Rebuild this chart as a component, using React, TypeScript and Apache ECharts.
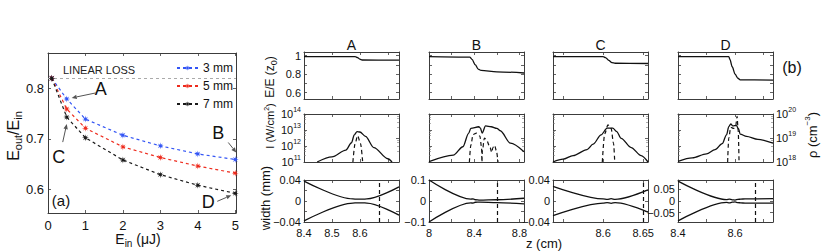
import React, { useEffect, useRef } from 'react';
import * as echarts from 'echarts';

// ---------- panel (a) data ----------
const ein = [0.1, 0.5, 1, 2, 3, 4, 5];
const ratio3mm = [0.82, 0.779, 0.739, 0.707, 0.686, 0.67, 0.659];
const ratio5mm = [0.82, 0.759, 0.721, 0.684, 0.663, 0.646, 0.632];
const ratio7mm = [0.82, 0.743, 0.702, 0.658, 0.629, 0.608, 0.592];
const linearLoss = 0.821;
const legendNames = ['3 mm', '5 mm', '7 mm'];
const einTicks = [0, 1, 2, 3, 4, 5];
const ratioTicks = [0.6, 0.7, 0.8];

// ---------- panel (b) data ----------
const caseNames = ['A', 'B', 'C', 'D'];
const zMin = [8.4, 8, 8.5375, 8.4];
const zMax = [8.74, 8.84, 8.656, 8.733];
const zTickValues = [[8.4, 8.5, 8.6, 8.7], [8, 8.2, 8.4, 8.6, 8.8], [8.55, 8.6, 8.65], [8.4, 8.5, 8.6, 8.7]];
const zTickLabels = [[8.4, 8.5, 8.6], [8, 8.4, 8.8], [8.6, 8.65], [8.4, 8.6]];
const zFocusMarker = [8.669, 8.6, 8.651, 8.674];

// top row: E/E(z0)
const energyTicks = [0.6, 0.7, 0.8, 0.9, 1];
const energyLabels = [0.6, 0.8, 1];
const zA_E = [8.4, 8.583, 8.592, 8.6, 8.608, 8.74];
const eA = [0.99, 0.99, 0.98, 0.962, 0.953, 0.952];
const zB_E = [8, 8.36, 8.38, 8.41, 8.435, 8.46, 8.6, 8.84];
const eB = [0.99, 0.985, 0.96, 0.9, 0.855, 0.84, 0.825, 0.812];
const zC_E = [8.5375, 8.6, 8.603, 8.607, 8.611, 8.615, 8.656];
const eC = [0.99, 0.99, 0.98, 0.95, 0.925, 0.918, 0.915];
const zD_E = [8.4, 8.578, 8.582, 8.59, 8.6, 8.61, 8.618, 8.733];
const eD = [0.99, 0.99, 0.96, 0.88, 0.8, 0.755, 0.738, 0.735];

// middle row: intensity I (W/cm^2) and plasma density rho (cm^-3)
const zA_I = [8.447, 8.5, 8.55, 8.57, 8.58, 8.59, 8.6, 8.62, 8.65, 8.7, 8.715];
const iA = [1e11, 2.1e11, 5.6e11, 1.6e12, 5e12, 8e12, 7.5e12, 4e12, 8e11, 1.6e11, 1e11];
const zA_R = [8.575, 8.583, 8.592, 8.602, 8.61];
const rA = [1e18, 6e18, 1.25e19, 6e18, 1e18];
const zB_I = [8, 8.215, 8.3, 8.35, 8.37, 8.44, 8.455, 8.47, 8.5, 8.55, 8.6, 8.63, 8.72, 8.84];
const iB = [1.05e11, 2.7e11, 9e11, 6.2e12, 1.27e13, 1.6e13, 1.3e13, 6.3e12, 1.8e13, 1.6e13, 1.27e13, 9e12, 1.5e12, 4.4e11];
const zB_R = [8.357, 8.37, 8.39, 8.42, 8.45, 8.465, 8.468, 8.472, 8.49, 8.51, 8.54, 8.555, 8.565, 8.58, 8.595, 8.61];
const rB = [1e18, 5e18, 1.4e19, 1.6e19, 1.2e19, 4e18, 1e18, 3e18, 1e19, 8e18, 4e18, 2.5e18, 4e18, 5e18, 3e18, 1e18];
const zC_I = [8.5375, 8.55, 8.5625, 8.58, 8.5875, 8.5975, 8.605, 8.612, 8.617, 8.6225, 8.635, 8.6475, 8.656];
const iC = [1e11, 1.5e11, 2.5e11, 6e11, 1.3e12, 5e12, 1.3e13, 1.3e13, 8e12, 3e12, 8e11, 2.5e11, 1e11];
const zC_R = [8.599, 8.602, 8.606, 8.61, 8.613, 8.6145];
const rC = [1e18, 1.5e19, 3.5e19, 2.5e19, 6e18, 1e18];
const zD_I = [8.4, 8.45, 8.5, 8.53, 8.555, 8.57, 8.578, 8.585, 8.592, 8.605, 8.612, 8.618, 8.64, 8.68, 8.733];
const iD = [1.1e11, 1.8e11, 3.2e11, 6e11, 1.4e12, 5e12, 1.6e13, 2.4e13, 1.8e13, 1.9e13, 1.2e13, 5.5e12, 4e12, 2.6e12, 1.5e12];
const zD_R = [8.574, 8.578, 8.585, 8.595, 8.602, 8.607, 8.611, 8.614];
const rD = [1e18, 1e19, 2.8e19, 2.5e19, 3e19, 8e19, 2e19, 1e18];

// bottom row: beam width (mm), upper and lower envelopes
const widthMin = [-0.04, -0.1, -0.04, -0.09];
const widthMax = [0.04, 0.1, 0.04, 0.09];
const widthTicks = [[-0.04, -0.02, 0, 0.02, 0.04], [-0.1, -0.05, 0, 0.05, 0.1], [-0.04, -0.02, 0, 0.02, 0.04], [-0.05, 0, 0.05]];
const widthLabels = [[-0.04, 0, 0.04], [-0.1, 0, 0.1], [-0.04, 0, 0.04], [-0.05, 0, 0.05]];
const zA_W = [8.4, 8.575, 8.59, 8.61, 8.625, 8.74];
const wAup = [0.038, 0.004, 0.0035, 0.0035, 0.004, 0.027];
const wAlo = [-0.038, -0.004, -0.0035, -0.0035, -0.004, -0.027];
const zB_W = [8, 8.37, 8.39, 8.41, 8.45, 8.6, 8.84];
const wBup = [0.1, 0.009, 0.01, 0.006, 0.004, 0.006, 0.013];
const wBlo = [-0.1, -0.009, -0.01, -0.006, -0.005, -0.008, -0.014];
const zC_W = [8.5375, 8.6, 8.605, 8.61, 8.615, 8.656];
const wCup = [0.028, 0.004, 0.003, 0.0045, 0.003, 0.021];
const wClo = [-0.028, -0.004, -0.003, -0.0045, -0.003, -0.021];
const zD_W = [8.4, 8.57, 8.58, 8.59, 8.6, 8.61, 8.62, 8.635, 8.733];
const wDup = [0.085, 0.006, 0.008, 0.005, 0.004, 0.007, 0.008, 0.009, 0.01];
const wDlo = [-0.085, -0.006, -0.008, -0.005, -0.004, -0.007, -0.008, -0.009, -0.009];

const energyZ = [zA_E, zB_E, zC_E, zD_E];
const energyV = [eA, eB, eC, eD];
const intZ = [zA_I, zB_I, zC_I, zD_I];
const intV = [iA, iB, iC, iD];
const rhoZ = [zA_R, zB_R, zC_R, zD_R];
const rhoV = [rA, rB, rC, rD];
const widthZ = [zA_W, zB_W, zC_W, zD_W];
const widthUp = [wAup, wBup, wCup, wDup];
const widthLo = [wAlo, wBlo, wClo, wDlo];

// ---------- styling ----------
const FONT = '"Liberation Sans", Arial, sans-serif';
const INK = '#111';
const FRAME = '#3c3c3c';
const seriesColors = ['#3355f5', '#ee2c1e', '#1a1a1a'];

const zip = (xs: number[], ys: number[]) => xs.map((x, i) => [x, ys[i]]);
const fmtNum = (v: number) => String(v).replace('-', '\u2212');

function starSymbol(): string {
  const pts: string[] = [];
  for (let i = 0; i < 16; i++) {
    const r = i % 2 === 0 ? 10 : 3.6;
    const a = (Math.PI * i) / 8 - Math.PI / 2;
    pts.push(`${(r * Math.cos(a)).toFixed(2)} ${(r * Math.sin(a)).toFixed(2)}`);
  }
  return 'path://M' + pts.join(' L') + ' Z';
}

function valueAxis(gridIndex: number, min: number, max: number, position: string, ticks: number[], labels: number[] | null, fontSize = 11, margin = 4) {
  return {
    type: 'value', gridIndex, min, max, position,
    axisLine: { show: true, onZero: false, lineStyle: { color: FRAME, width: 1 } },
    axisTick: { show: true, inside: true, length: 3, customValues: ticks, lineStyle: { color: FRAME, width: 0.8 } },
    axisLabel: labels
      ? { show: true, customValues: labels, fontSize, fontFamily: FONT, color: INK, margin, formatter: fmtNum }
      : { show: false },
    splitLine: { show: false },
  };
}

function logAxis(gridIndex: number, min: number, max: number, position: string, showLabels: boolean) {
  return {
    type: 'log', logBase: 10, gridIndex, min, max, position,
    axisLine: { show: true, onZero: false, lineStyle: { color: FRAME, width: 1 } },
    axisTick: { show: true, inside: true, length: 3, lineStyle: { color: FRAME, width: 0.8 } },
    minorTick: { show: true, splitNumber: 5, length: 2, lineStyle: { color: '#777', width: 0.6 } },
    axisLabel: showLabels
      ? {
          show: true, margin: 3, fontFamily: FONT, color: INK,
          formatter: (v: number) => `{b|10}{s|${Math.round(Math.log10(v))}}`,
          rich: {
            b: { fontSize: 11, fontFamily: FONT, color: INK, lineHeight: 16 },
            s: { fontSize: 7, fontFamily: FONT, color: INK, lineHeight: 8, verticalAlign: 'top' },
          },
        }
      : { show: false },
    splitLine: { show: false },
  };
}

const colLeft = [304, 429, 553, 678];
const rowTop = [52, 114, 180];
const rowH = [47, 48, 42];
const colW = 95;

export default function App() {
  const ref = useRef<HTMLDivElement>(null);
  useEffect(() => {
    const chart = echarts.init(ref.current!, null, { renderer: 'svg' });
    const grids: any[] = [];
    const xAxes: any[] = [];
    const yAxes: any[] = [];
    const series: any[] = [];
    const STAR = starSymbol();

    // panel (a)
    grids.push({ left: 48, top: 53, width: 188, height: 160, outerBoundsMode: 'none' });
    xAxes.push(valueAxis(0, 0, 5.02, 'bottom', einTicks, einTicks, 13, 6));
    xAxes.push(valueAxis(0, 0, 5.02, 'top', einTicks, null));
    yAxes.push(valueAxis(0, 0.553, 0.87, 'left', ratioTicks, ratioTicks, 13, 4));
    yAxes.push(valueAxis(0, 0.553, 0.87, 'right', ratioTicks, null));
    [ratio3mm, ratio5mm, ratio7mm].forEach((arr, k) => {
      const s: any = {
        type: 'line', name: legendNames[k], xAxisIndex: 0, yAxisIndex: 0,
        data: zip(ein, arr), symbol: STAR, symbolSize: 7, z: 3 + k,
        lineStyle: { type: [3, 3], width: 1.2, color: seriesColors[k] },
        itemStyle: { color: seriesColors[k] },
      };
      if (k === 0) {
        s.markLine = {
          silent: true, symbol: 'none', label: { show: false },
          lineStyle: { type: [3, 3], color: '#aaa', width: 1 },
          data: [{ yAxis: linearLoss }],
        };
      }
      series.push(s);
    });

    // panel (b)
    for (let r = 0; r < 3; r++) {
      for (let c = 0; c < 4; c++) {
        const gi = grids.length;
        grids.push({ left: colLeft[c], top: rowTop[r], width: colW, height: rowH[r], outerBoundsMode: 'none' });
        const xi = xAxes.length;
        xAxes.push(valueAxis(gi, zMin[c], zMax[c], 'bottom', zTickValues[c], r === 2 ? zTickLabels[c] : null, 11, 5));
        xAxes.push(valueAxis(gi, zMin[c], zMax[c], 'top', zTickValues[c], null));
        const yi = yAxes.length;
        if (r === 0) {
          yAxes.push(valueAxis(gi, 0.53, 1.04, 'left', energyTicks, c === 0 ? energyLabels : null, 11, 3));
          yAxes.push(valueAxis(gi, 0.53, 1.04, 'right', energyTicks, null));
          series.push({
            type: 'line', xAxisIndex: xi, yAxisIndex: yi, data: zip(energyZ[c], energyV[c]),
            symbol: 'none', smooth: 0.3, smoothMonotone: 'x', lineStyle: { color: '#111', width: 1.3 },
          });
        } else if (r === 1) {
          yAxes.push(logAxis(gi, 1e11, 1e14, 'left', c === 0));
          yAxes.push(logAxis(gi, 1e18, 1e20, 'right', c === 3));
          series.push({
            type: 'line', xAxisIndex: xi, yAxisIndex: yi, data: zip(intZ[c], intV[c]),
            symbol: 'none', smooth: 0.3, smoothMonotone: 'x', lineStyle: { color: '#111', width: 1.3 },
          });
          series.push({
            type: 'line', xAxisIndex: xi, yAxisIndex: yi + 1, data: zip(rhoZ[c], rhoV[c]),
            symbol: 'none', smooth: 0.3, smoothMonotone: 'x', lineStyle: { color: '#111', width: 1.2, type: [4, 3] },
          });
        } else {
          yAxes.push(valueAxis(gi, widthMin[c], widthMax[c], 'left', widthTicks[c], widthLabels[c], 11, 3));
          yAxes.push(valueAxis(gi, widthMin[c], widthMax[c], 'right', widthTicks[c], null));
          series.push({
            type: 'line', xAxisIndex: xi, yAxisIndex: yi, data: zip(widthZ[c], widthUp[c]),
            symbol: 'none', smooth: 0.3, smoothMonotone: 'x', lineStyle: { color: '#111', width: 1.3 },
            markLine: {
              silent: true, symbol: 'none', label: { show: false },
              lineStyle: { type: [4, 3], color: '#111', width: 1.2 },
              data: [{ xAxis: zFocusMarker[c] }],
            },
          });
          series.push({
            type: 'line', xAxisIndex: xi, yAxisIndex: yi, data: zip(widthZ[c], widthLo[c]),
            symbol: 'none', smooth: 0.3, smoothMonotone: 'x', lineStyle: { color: '#111', width: 1.3 },
          });
        }
      }
    }

    chart.setOption({
      animation: false,
      backgroundColor: '#fff',
      grid: grids,
      xAxis: xAxes,
      yAxis: yAxes,
      series,
      legend: {
        data: legendNames, orient: 'vertical', left: 176, top: 62, padding: 0,
        itemWidth: 21, itemHeight: 7, itemGap: 6, selectedMode: false,
        textStyle: { fontSize: 12, fontFamily: FONT, color: INK },
      },
    });

    // ---------- graphics: labels and annotations ----------
    const px = (x: number, y: number) => chart.convertToPixel({ seriesIndex: 0 }, [x, y]) as number[];
    const g: any[] = [];
    const text = (x: number, y: number, t: string, fontSize: number, extra: any = {}, rot = 0) => ({
      type: 'text', x, y, rotation: rot, silent: true,
      style: { text: t, fontSize, fontFamily: FONT, fill: INK, align: 'center', verticalAlign: 'middle', ...extra },
    });
    const sub = (fs: number) => ({ fontSize: fs, fontFamily: FONT, fill: INK, lineHeight: fs, verticalAlign: 'bottom' });
    const sup = (fs: number) => ({ fontSize: fs, fontFamily: FONT, fill: INK, lineHeight: fs, verticalAlign: 'top' });

    // panel (a) labels
    g.push(text(13, 136, 'E{s|out}/E{s|in}', 16, { lineHeight: 21, rich: { s: sub(11) } }, Math.PI / 2));
    g.push(text(138, 239, 'E{s|in} (\u03bcJ)', 14, { lineHeight: 18, rich: { s: sub(10) } }));
    g.push(text(61, 200, '(a)', 15));
    const ll = px(0.4, linearLoss);
    g.push(text(ll[0], ll[1] - 8, 'LINEAR LOSS', 11, { align: 'left', fill: '#222' }));

    const arrow = (x1: number, y1: number, x2: number, y2: number) => {
      const ang = Math.atan2(y2 - y1, x2 - x1);
      const L = 5, W = 2.2;
      const bx = x2 - L * Math.cos(ang), by = y2 - L * Math.sin(ang);
      const nx = -Math.sin(ang) * W, ny = Math.cos(ang) * W;
      return [
        { type: 'line', silent: true, shape: { x1, y1, x2: bx, y2: by }, style: { stroke: '#555', lineWidth: 1 } },
        { type: 'polygon', silent: true, shape: { points: [[x2, y2], [bx + nx, by + ny], [bx - nx, by - ny]] }, style: { fill: '#555' } },
      ];
    };
    const notes = [
      { t: 'A', p: [ein[1], ratio3mm[1]], tx: [34, -10], tail: [29, -6], head: [5, -1] },
      { t: 'B', p: [ein[6], ratio3mm[6]], tx: [-17, -26], tail: [-7, -17], head: [1, -7] },
      { t: 'C', p: [ein[1], ratio7mm[1]], tx: [-8, 40], tail: [-4, 25], head: [0, 7] },
      { t: 'D', p: [ein[6], ratio7mm[6]], tx: [-27, 9], tail: [-18, 8], head: [-4, 2] },
    ];
    notes.forEach((n) => {
      const [x, y] = px(n.p[0], n.p[1]);
      g.push(text(x + n.tx[0], y + n.tx[1], n.t, 18));
      g.push(...arrow(x + n.tail[0], y + n.tail[1], x + n.head[0], y + n.head[1]));
    });

    // panel (b) labels
    caseNames.forEach((nm, c) => g.push(text(colLeft[c] + colW / 2, 45, nm, 14)));
    g.push(text(792, 67, '(b)', 16));
    g.push(text(270, 77, 'E/E (z{s|0})', 12, { lineHeight: 16, rich: { s: sub(9) } }, Math.PI / 2));
    g.push(text(270, 126, 'I (W/cm{s|2})', 11, { lineHeight: 15, rich: { s: sup(7) } }, Math.PI / 2));
    g.push(text(265, 198, 'width (mm)', 13, {}, Math.PI / 2));
    g.push(text(544, 243, 'z (cm)', 13));
    g.push(text(812, 135, '\u03c1 (cm{s|\u22123})', 13, { lineHeight: 17, rich: { s: sup(8) } }, Math.PI / 2));

    chart.setOption({ graphic: g });

    return () => chart.dispose();
  }, []);
  return <div ref={ref} style={{ position: 'fixed', left: 0, top: 0, width: 830, height: 252, background: '#fff' }} />;
}
